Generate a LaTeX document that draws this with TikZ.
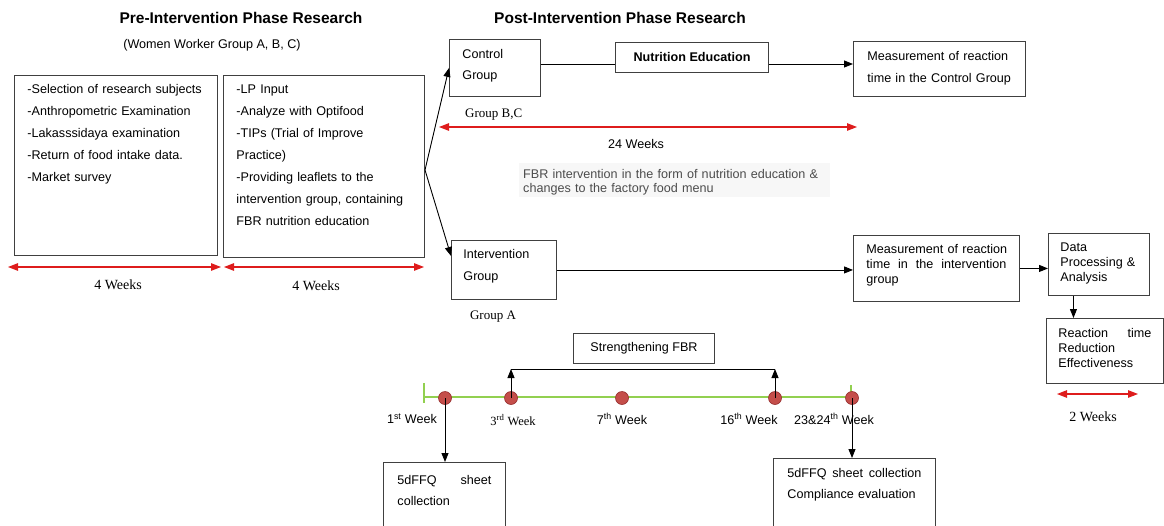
\documentclass[tikz,border=0pt]{standalone}
\usepackage{fontspec}
\setmainfont{Liberation Sans}
\newfontfamily\tnr{Liberation Serif}
\usepackage{xcolor}
\usetikzlibrary{arrows.meta}
\definecolor{spanred}{RGB}{222,28,28}
\definecolor{trackgreen}{RGB}{146,208,80}
\definecolor{dotred}{RGB}{196,78,74}
\definecolor{dotline}{RGB}{150,45,45}

\begin{document}
\begin{tikzpicture}[x=1pt,y=-1pt,
	box/.style={draw=black!75, line width=0.9pt, anchor=north west, align=left, text height=9pt, font=\fontsize{12.6}{22}\selectfont},
	plain/.style={font=\fontsize{12.6}{15}\selectfont, inner sep=0pt},
	serif text/.style={font=\tnr\fontsize{13}{15}\selectfont, inner sep=0pt},
	weeks/.style={font=\tnr\fontsize{14}{16}\selectfont, inner sep=0pt},
	arrow/.style={-{Triangle[length=9pt,width=7pt]}, line width=0.9pt},
	red span/.style={{Triangle[length=10pt,width=7.5pt]}-{Triangle[length=10pt,width=7.5pt]}, draw=spanred, line width=1.1pt},
	wk dot/.style={circle, draw=dotline, fill=dotred, line width=0.6pt, minimum size=13pt, inner sep=0pt},
	track/.style={draw=trackgreen, line width=2.5pt}]
	
	\useasboundingbox (0,0) rectangle (1164,525);
	\clip (0,0) rectangle (1164,525);
	
	\node[font=\bfseries\fontsize{15.5}{18}\selectfont] (pre) at (241,18) {Pre-Intervention Phase Research};
	\node[font=\bfseries\fontsize{15.5}{18}\selectfont] (post) at (620,18) {Post-Intervention Phase Research};
	\node[plain] (women) at (212,45) {(Women Worker Group A, B, C)};
	
	\node[box, text width=177pt, inner xsep=13pt, inner ysep=9pt, text depth=153pt] (1) at (14,75) {-Selection of research subjects\\ -Anthropometric Examination\\ -Lakasssidaya examination\\ -Return of food intake data.\\ -Market survey};
	\node[box, text width=175pt, inner xsep=13pt, inner ysep=9pt, text depth=155pt] (2) at (223,75) {-LP Input\\ -Analyze with Optifood\\ -TIPs (Trial of Improve\\ Practice)\\ -Providing leaflets to the\\ intervention group, containing\\ FBR nutrition education};
	\node[box, text width=65pt, inner xsep=13pt, inner ysep=10pt, text depth=28pt, font=\fontsize{12.6}{21}\selectfont] (3) at (449,39) {Control\\ Group};
	\node[draw=black!75, line width=0.9pt, minimum width=153pt, minimum height=30pt, font=\bfseries\fontsize{12.6}{15}\selectfont] (4) at (692,57) {Nutrition Education};
	\node[box, text width=144pt, inner xsep=14pt, inner ysep=10pt, text depth=26pt] (5) at (853,41) {Measurement of reaction\\ time in the Control Group};
	\node[box, text width=81pt, inner xsep=12pt, inner ysep=9pt, text depth=32pt] (6) at (451,240) {Intervention\\ Group};
	\node[box, text width=140pt, inner xsep=13pt, inner ysep=9pt, text depth=39pt, font=\fontsize{12.6}{15}\selectfont] (7) at (853,235) {\mbox{Measurement of reaction}\\ time\hfill in\hfill the\hfill intervention\\ group};
	\node[box, text width=77pt, inner xsep=12pt, inner ysep=9pt, text depth=35pt, font=\fontsize{12.6}{15}\selectfont] (8) at (1048,233) {Data\\ Processing \&\\ Analysis};
	\node[box, text width=93pt, inner xsep=12pt, inner ysep=10pt, text depth=36pt, font=\fontsize{12.6}{15}\selectfont] (9) at (1046,318) {Reaction\hfill time\\ Reduction\\ Effectiveness};
	\node[draw=black!75, line width=0.9pt, minimum width=141pt, minimum height=30pt, font=\fontsize{12.6}{15}\selectfont] (10) at (644,348) {Strengthening FBR};
	\node[box, text width=94pt, inner xsep=14pt, inner ysep=13pt, text depth=100pt, font=\fontsize{12.6}{21}\selectfont] (11) at (383,462) {5dFFQ\hfill sheet\\ collection};
	\node[box, text width=134pt, inner xsep=14pt, inner ysep=10pt, text depth=100pt, font=\fontsize{12.6}{21}\selectfont] (12) at (773,458) {5dFFQ\hfill sheet\hfill collection\\ Compliance evaluation};
	
	\node[anchor=north west, fill=black!3, text=black!70, align=left, text width=303pt, inner xsep=4pt, inner ysep=6pt, text height=9pt, text depth=13pt, font=\fontsize{12.6}{14.5}\selectfont] (fbr) at (519,163) {FBR intervention in the form of nutrition education \&\\ changes to the factory food menu};
	
	\node[serif text, anchor=west] (bc) at (465,115) {Group B,C};
	\node[serif text] (ga) at (493,317) {Group A};
	\node[plain] (w24lbl) at (636,144) {24 Weeks};
	\node[weeks] (four1) at (118,285) {4 Weeks};
	\node[weeks] (four2) at (316,286) {4 Weeks};
	\node[weeks] (two) at (1093,417) {2 Weeks};
	
	\coordinate (a1) at (8,267);
	\coordinate (a2) at (221,267);
	\coordinate (a3) at (224,267);
	\coordinate (a4) at (424,267);
	\coordinate (b1) at (439,127);
	\coordinate (b2) at (857,127);
	\coordinate (c1) at (1057,394);
	\coordinate (c2) at (1138,394);
	\draw[red span] (a1) -- (a2);
	\draw[red span] (a3) -- (a4);
	\draw[red span] (b1) -- (b2);
	\draw[red span] (c1) -- (c2);
	
	\coordinate (fork) at (425,170);
	\coordinate (lv) at (0,64);
	\draw[arrow] (fork) -- (3.west);
	\draw[arrow] (fork) -- ([yshift=14pt]6.west);
	\draw[line width=0.9pt] (3.east |- lv) -- (4.west |- lv);
	\draw[arrow] (4.east |- lv) -- (5.west |- lv);
	\draw[arrow] (6.east) -- (7.west |- 6.east);
	\draw[arrow] (7.east) -- (8.west |- 7.east);
	\draw[arrow] ([xshift=-25.5pt]8.south) -- ([xshift=-25.5pt]8.south |- 9.north);
	
	\coordinate (t0) at (424,397);
	\coordinate (t1) at (851,397);
	\draw[track] (t0) -- (t1);
	\draw[track, line width=2pt] ([yshift=14pt]t0) -- ([yshift=-6pt]t0);
	\draw[track, line width=2pt] ([yshift=12pt]t1) -- ([yshift=-4pt]t1);
	
	\node[wk dot] (w1) at (445,398) {};
	\node[wk dot] (w3) at (511,398) {};
	\node[wk dot] (w7) at (622,398) {};
	\node[wk dot] (w16) at (775,398) {};
	\node[wk dot] (w24) at (852,398) {};
	
	\node[plain] (l1) at (412,419) {1\textsuperscript{st} Week};
	\node[serif text, font=\tnr\fontsize{12.5}{15}\selectfont] (l3) at (513,420) {3\textsuperscript{rd} Week};
	\node[plain] (l7) at (622,419) {7\textsuperscript{th} Week};
	\node[plain] (l16) at (749,419) {16\textsuperscript{th} Week};
	\node[plain] (l24) at (834,419) {23\&24\textsuperscript{th} Week};
	
	\coordinate (brk) at (0,369);
	\draw[arrow] (w1.center) -- (w1 |- 11.north);
	\draw[arrow] (w24.center) -- (w24 |- 12.north);
	\draw[arrow] (w3.center) -- (w3 |- brk);
	\draw[arrow] (w16.center) -- (w16 |- brk);
	\draw[line width=0.9pt] (w3 |- brk) -- (w16 |- brk);
	
\end{tikzpicture}
\end{document}
